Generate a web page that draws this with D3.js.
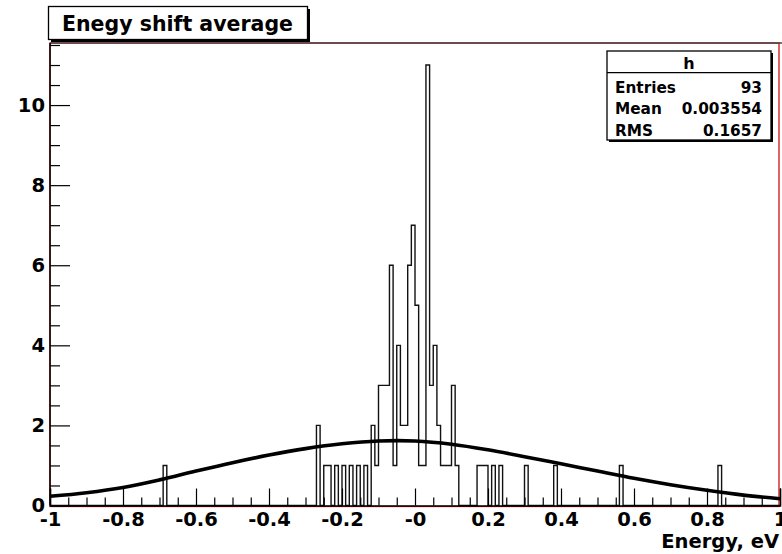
<!DOCTYPE html>
<html>
<head>
<meta charset="utf-8">
<script src="https://cdn.jsdelivr.net/npm/d3@7"></script>
<style>
  body { margin: 0; background: #fff; }
  svg { display: block; }
  text { font-family: "DejaVu Sans", sans-serif; font-weight: bold; fill: #000; }
</style>
</head>
<body>
<svg id="chart" width="782" height="554"></svg>
<script>
// Histogram "h": 200 bins of width 0.01 on [-1, 1); only the filled bins are listed
const binLow = [-0.69, -0.27, -0.25, -0.24, -0.22, -0.20, -0.18, -0.16, -0.14, -0.12,
                -0.11, -0.10, -0.09, -0.08, -0.07, -0.06, -0.05, -0.04, -0.03, -0.02,
                -0.01, 0.00, 0.01, 0.02, 0.03, 0.04, 0.05, 0.06, 0.07, 0.08,
                0.09, 0.10, 0.11, 0.17, 0.18, 0.19, 0.21, 0.23, 0.30, 0.38,
                0.56, 0.83];
const binCount = [1, 2, 1, 1, 1, 1, 1, 1, 1, 2,
                  1, 3, 3, 3, 6, 1, 4, 2, 2, 6,
                  7, 5, 1, 1, 11, 3, 4, 2, 1, 1,
                  1, 3, 1, 1, 1, 1, 1, 1, 1, 1,
                  1, 1];

// Gaussian fit curve, sampled along x
const fitX = [-1, -0.9, -0.8, -0.7, -0.6, -0.5, -0.4, -0.3, -0.2, -0.1, 0,
              0.1, 0.2, 0.3, 0.4, 0.5, 0.6, 0.7, 0.8, 0.9, 1];
const fitY = [0.23, 0.32, 0.45, 0.64, 0.86, 1.07, 1.26, 1.42, 1.54, 1.61, 1.61,
              1.53, 1.39, 1.22, 1.04, 0.86, 0.68, 0.52, 0.38, 0.26, 0.17];

// Axis ticks and labels
const xTickValues = [-1, -0.8, -0.6, -0.4, -0.2, 0, 0.2, 0.4, 0.6, 0.8, 1];
const xTickLabels = ["-1", "-0.8", "-0.6", "-0.4", "-0.2", "-0", "0.2", "0.4", "0.6", "0.8", "1"];
const yTickValues = [0, 2, 4, 6, 8, 10];
const yTickLabels = ["0", "2", "4", "6", "8", "10"];

// Stats box rows
const statNames = ["Entries", "Mean", "RMS"];
const statValues = ["93", "0.003554", "0.1657"];

const titleText = "Enegy shift average";
const xAxisTitle = "Energy, eV";

const svg = d3.select("#chart");
const frame = { left: 50, right: 780, top: 43, bottom: 505.5 };

const x = d3.scaleLinear().domain([-1, 1]).range([frame.left, frame.right]);
const y = d3.scaleLinear().domain([0, 11.55]).range([frame.bottom, frame.top]);

// Frame: red border, dark top edge
svg.append("rect")
  .attr("x", frame.left).attr("y", frame.top)
  .attr("width", frame.right - 1 - frame.left).attr("height", frame.bottom + 1 - frame.top)
  .attr("fill", "none").attr("stroke", "#d01010").attr("stroke-width", 1.3);
svg.append("line")
  .attr("x1", frame.left).attr("x2", 782)
  .attr("y1", frame.top).attr("y2", frame.top)
  .attr("stroke", "#444").attr("stroke-width", 1.5);

// Histogram outline
const nBins = 200;
const counts = new Array(nBins).fill(0);
binLow.forEach((v, i) => { counts[Math.round((v + 1) / 0.01)] = binCount[i]; });
const stepPts = [[-1, 0]];
counts.forEach((c, b) => stepPts.push([-1 + b * 0.01, c]));
stepPts.push([1, 0]);

svg.append("path")
  .datum(stepPts)
  .attr("fill", "none")
  .attr("stroke", "#111")
  .attr("stroke-width", 1.4)
  .attr("d", d3.line().x(d => x(d[0])).y(d => y(d[1])).curve(d3.curveStepAfter));

// Fit curve
svg.append("path")
  .datum(fitX.map((v, i) => [v, fitY[i]]))
  .attr("fill", "none")
  .attr("stroke", "#000")
  .attr("stroke-width", 3.6)
  .attr("stroke-linejoin", "round")
  .attr("d", d3.line().x(d => x(d[0])).y(d => y(d[1])).curve(d3.curveCatmullRom));

// X axis: minor ticks, then major ticks with labels
const xMinor = d3.range(-1, 1.0001, 0.05).filter(v => Math.abs(v * 5 - Math.round(v * 5)) > 1e-6);
svg.append("g")
  .attr("transform", `translate(0,${frame.bottom})`)
  .call(d3.axisBottom(x).tickValues(xMinor).tickSize(-8).tickFormat(""))
  .call(g => g.select(".domain").remove())
  .call(g => g.selectAll("line").attr("stroke", "#000").attr("stroke-width", 1.2));

const xAxis = svg.append("g")
  .attr("transform", `translate(0,${frame.bottom})`)
  .call(d3.axisBottom(x).tickValues(xTickValues).tickSize(-17).tickPadding(7)
        .tickFormat((d, i) => xTickLabels[i]));
xAxis.select(".domain").attr("stroke", "#000").attr("stroke-width", 1.5);
xAxis.selectAll("line").attr("stroke", "#000").attr("stroke-width", 1.2);
xAxis.selectAll("text").attr("font-size", 19.5).attr("font-family", "DejaVu Sans").attr("font-weight", "bold");

// Y axis
const yMinor = d3.range(0, 11.51, 0.5).filter(v => v % 2 !== 0);
svg.append("g")
  .attr("transform", `translate(${frame.left},0)`)
  .call(d3.axisLeft(y).tickValues(yMinor).tickSize(-10).tickFormat(""))
  .call(g => g.select(".domain").remove())
  .call(g => g.selectAll("line").attr("stroke", "#000").attr("stroke-width", 1.2));

const yAxis = svg.append("g")
  .attr("transform", `translate(${frame.left},0)`)
  .call(d3.axisLeft(y).tickValues(yTickValues).tickSize(-20).tickPadding(5)
        .tickFormat((d, i) => yTickLabels[i]));
yAxis.select(".domain").attr("d", `M0,${frame.bottom}V${frame.top}`)
  .attr("stroke", "#000").attr("stroke-width", 1.5);
yAxis.selectAll("line").attr("stroke", "#000").attr("stroke-width", 1.2);
yAxis.selectAll("text").attr("font-size", 19.5).attr("font-family", "DejaVu Sans").attr("font-weight", "bold");

// X axis title
svg.append("text")
  .attr("x", 779).attr("y", 548)
  .attr("text-anchor", "end")
  .attr("font-size", 19.5)
  .text(xAxisTitle);

// Title box with shadow
svg.append("rect").attr("x", 51).attr("y", 9).attr("width", 259).attr("height", 33).attr("fill", "#000");
svg.append("rect").attr("x", 48.5).attr("y", 6.5).attr("width", 259).attr("height", 33)
  .attr("fill", "#fff").attr("stroke", "#000").attr("stroke-width", 1.3);
svg.append("text")
  .attr("x", 62).attr("y", 31)
  .attr("font-size", 20.5)
  .text(titleText);

// Stats box with shadow
const sb = { x: 607, y: 51, w: 164, h: 89 };
svg.append("rect").attr("x", sb.x + 2).attr("y", sb.y + 2).attr("width", sb.w).attr("height", sb.h).attr("fill", "#000");
svg.append("rect").attr("x", sb.x).attr("y", sb.y).attr("width", sb.w).attr("height", sb.h)
  .attr("fill", "#fff").attr("stroke", "#000").attr("stroke-width", 1.3);
svg.append("line")
  .attr("x1", sb.x).attr("x2", sb.x + sb.w)
  .attr("y1", 72.7).attr("y2", 72.7)
  .attr("stroke", "#000").attr("stroke-width", 1.3);
svg.append("text")
  .attr("x", 689).attr("y", 69)
  .attr("text-anchor", "middle")
  .attr("font-size", 16)
  .text("h");
const rows = svg.append("g");
statNames.forEach((name, i) => {
  const by = 92.5 + i * 21.8;
  rows.append("text").attr("x", 615).attr("y", by).attr("font-size", 15.3).text(name);
  rows.append("text").attr("x", 762).attr("y", by).attr("text-anchor", "end")
    .attr("font-size", 15.3).text(statValues[i]);
});
</script>
</body>
</html>
